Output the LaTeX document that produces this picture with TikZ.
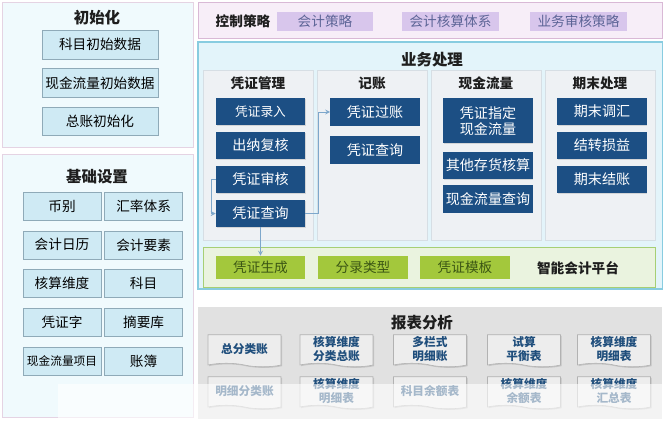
\documentclass[tikz,border=0pt]{standalone}
\usepackage{fontspec}
\setmainfont{Noto Sans CJK SC}
\usepackage{xcolor}
\usepackage{tikz}
\usetikzlibrary{shapes.symbols, arrows, positioning, shadows}
\definecolor{panelfill}{HTML}{F0FAFD}
\definecolor{panelline}{HTML}{E5D3E3}
\definecolor{lboxfill}{HTML}{CFEAF4}
\definecolor{lboxline}{HTML}{8FAAB8}
\definecolor{ctrlfill}{HTML}{F7EEF8}
\definecolor{ctrlline}{HTML}{D9B9D6}
\definecolor{chipfill}{HTML}{D8C6EC}
\definecolor{chiptext}{HTML}{5C6496}
\definecolor{bizfill}{HTML}{E3F4FA}
\definecolor{bizline}{HTML}{88CCE0}
\definecolor{colfill}{HTML}{EEF1F4}
\definecolor{colline}{HTML}{D6DEE4}
\definecolor{darkblue}{HTML}{1C4F84}
\definecolor{platfill}{HTML}{EAF3DF}
\definecolor{platline}{HTML}{A6CF74}
\definecolor{greenchip}{HTML}{A3C83C}
\definecolor{greentext}{HTML}{3B5614}
\definecolor{repfill}{HTML}{E1E1E1}
\definecolor{docfill}{HTML}{EDEDED}
\definecolor{docline}{HTML}{B2B2B2}
\definecolor{doctext}{HTML}{1F4E7C}
\definecolor{linec}{HTML}{7DA7CB}
\definecolor{titlec}{HTML}{1E1E1E}
\tikzstyle{arrow} = [draw=linec, semithick, ->, >=stealth]
\tikzstyle{panel} = [rectangle, draw=panelline, fill=panelfill, minimum width=4.775cm]
\tikzstyle{title} = [text=titlec, font=\bfseries\fontsize{11}{13}\selectfont]
\tikzstyle{subtitle} = [text=titlec, font=\bfseries\fontsize{9.7}{11}\selectfont]
\tikzstyle{lbox} = [rectangle, draw=lboxline, fill=lboxfill, minimum width=2.9cm, minimum height=0.72cm, font=\fontsize{9.7}{11}\selectfont]
\tikzstyle{gbox} = [rectangle, draw=lboxline, fill=lboxfill, minimum width=1.95cm, minimum height=0.7cm, font=\fontsize{9.7}{11}\selectfont]
\tikzstyle{chip} = [rectangle, fill=chipfill, text=chiptext, minimum width=2.4cm, minimum height=0.45cm, font=\fontsize{9.7}{11}\selectfont]
\tikzstyle{col} = [rectangle, draw=colline, fill=colfill, minimum width=2.75cm, minimum height=4.25cm]
\tikzstyle{dbox} = [rectangle, fill=darkblue, text=white, minimum width=2.225cm, minimum height=0.675cm, font=\fontsize{10}{12}\selectfont, drop shadow={opacity=0.25, shadow xshift=0.6pt, shadow yshift=-0.6pt}]
\tikzstyle{gchip} = [rectangle, fill=greenchip, text=greentext, minimum width=2.225cm, minimum height=0.575cm, font=\fontsize{9.7}{11}\selectfont]
\tikzstyle{doc} = [tape, tape bend top=none, tape bend bottom=out and in, tape bend height=2.5pt, draw=docline, fill=docfill, text=doctext, minimum width=1.825cm, minimum height=0.8cm, font=\bfseries\fontsize{8.3}{9.5}\selectfont, drop shadow={opacity=0.3, shadow xshift=0.8pt, shadow yshift=-0.8pt}]
\tikzset{every node/.style={align=center, inner sep=0pt}}

\begin{document}
\begin{tikzpicture}[x=0.025cm, y=-0.025cm, node distance=0.85cm]
    \useasboundingbox (0,0) rectangle (664,421);
    \node (init) [panel, minimum height=3.625cm] at (97.5,74.5) {};
    \node (initt) [title] at (97,18) {初始化};
    \node (kmcs) [lbox] at (100,44.5) {科目初始数据};
    \node (xjcs) [lbox, below of=kmcs, node distance=0.96cm] {现金流量初始数据};
    \node (zzcs) [lbox, below of=xjcs, node distance=0.96cm] {总账初始化};

    \node (base) [panel, minimum height=6.575cm] at (97.5,285.5) {};
    \node (baset) [title] at (97,177) {基础设置};
    \node (bibie) [gbox] at (62,206) {币别};
    \node (huilv) [gbox, right of=bibie, node distance=2.04cm] {汇率体系};
    \node (rili) [gbox, below of=bibie, node distance=0.97cm] {会计日历};
    \node (yaosu) [gbox, right of=rili, node distance=2.04cm] {会计要素};
    \node (weidu) [gbox, below of=rili, node distance=0.97cm] {核算维度};
    \node (kemu) [gbox, right of=weidu, node distance=2.04cm] {科目};
    \node (pzz) [gbox, below of=weidu, node distance=0.97cm] {凭证字};
    \node (zhaiyao) [gbox, right of=pzz, node distance=2.04cm] {摘要库};
    \node (xjxm) [gbox, below of=pzz, node distance=0.97cm, font=\fontsize{8.3}{10}\selectfont] {现金流量项目};
    \node (zhangbu) [gbox, right of=xjxm, node distance=2.04cm] {账簿};

    \node (ctrl) [rectangle, draw=ctrlline, fill=ctrlfill, minimum width=11.6cm, minimum height=0.9cm] at (430,20) {};
    \node (ctrlt) [subtitle] at (243,21) {控制策略};
    \node (kjcl) [chip] at (325,21.5) {会计策略};
    \node (hstx) [chip] at (450.5,21.5) {会计核算体系};
    \node (shcl) [chip] at (578.5,21.5) {业务审核策略};

    \node (biz) [rectangle, draw=bizline, thick, fill=bizfill, minimum width=11.6cm, minimum height=6.175cm] at (430,165.5) {};
    \node (bizt) [title] at (432,60) {业务处理};
    \node (colA) [col] at (258,155) {};
    \node (colB) [col] at (372,155) {};
    \node (colC) [col] at (486,155) {};
    \node (colD) [col] at (600,155) {};
    \node (colAt) [subtitle] at (258,83) {凭证管理};
    \node (colBt) [subtitle] at (372,83) {记账};
    \node (colCt) [subtitle] at (486,83) {现金流量};
    \node (colDt) [subtitle] at (600,83) {期末处理};

    \node (luru) [dbox, font=\fontsize{9}{11}\selectfont] at (260.5,111.5) {凭证录入};
    \node (fuhe) [dbox, below of=luru] {出纳复核};
    \node (shenhe) [dbox, below of=fuhe] {凭证审核};
    \node (chaxun) [dbox, below of=shenhe] {凭证查询};
    \node (guozhang) [dbox] at (375,112) {凭证过账};
    \node (jzcx) [dbox] at (375,150) {凭证查询};
    \node (zhiding) [dbox, minimum height=1.125cm, text depth=0pt] at (488,120.5) {凭证指定\\现金流量};
    \node (cunhuo) [dbox] at (488,165.5) {其他存货核算};
    \node (xjcx) [dbox] at (488,199) {现金流量查询};
    \node (tiaohui) [dbox] at (602,111.5) {期末调汇};
    \node (sunyi) [dbox, below of=tiaohui] {结转损益};
    \node (jiezhang) [dbox, below of=sunyi] {期末结账};

    \node (plat) [rectangle, draw=platline, fill=platfill, minimum width=11.3cm, minimum height=1cm] at (429,267) {};
    \node (shengcheng) [gchip] at (260.5,267.5) {凭证生成};
    \node (fenlu) [gchip] at (363,267.5) {分录类型};
    \node (muban) [gchip] at (465,267.5) {凭证模板};
    \node (platt) [subtitle] at (578,268) {智能会计平台};

    \draw [arrow] (shenhe.west) -- ++(-4,0) |- (chaxun.west);
    \draw [arrow] (chaxun.east) -- ++(13,0) |- (guozhang.west);
    \draw [arrow] (chaxun.south) -- (shengcheng.north);

    \node (rep) [rectangle, fill=repfill, minimum width=11.6cm, minimum height=2.8cm] at (430,363) {};
    \node (rept) [title] at (422,323) {报表分析};
    \node (zfl) [doc] at (244.5,349) {总分类账};
    \node (wdfl) [doc] at (336.5,349) {核算维度\\分类总账};
    \node (dlmx) [doc] at (430,349) {多栏式\\明细账};
    \node (shisuan) [doc] at (524,349) {试算\\平衡表};
    \node (wdmx) [doc] at (614,349) {核算维度\\明细表};
    \node (mxfl) [doc] at (244.5,391) {明细分类账};
    \node (wdmxb) [doc] at (336.5,391) {核算维度\\明细表};
    \node (kmye) [doc] at (430,391) {科目余额表};
    \node (wdye) [doc] at (524,391) {核算维度\\余额表};
    \node (wdhz) [doc] at (614,391) {核算维度\\汇总表};
    \fill [white, opacity=0.6] (58,384) rectangle (664,421);
\end{tikzpicture}
\end{document}
